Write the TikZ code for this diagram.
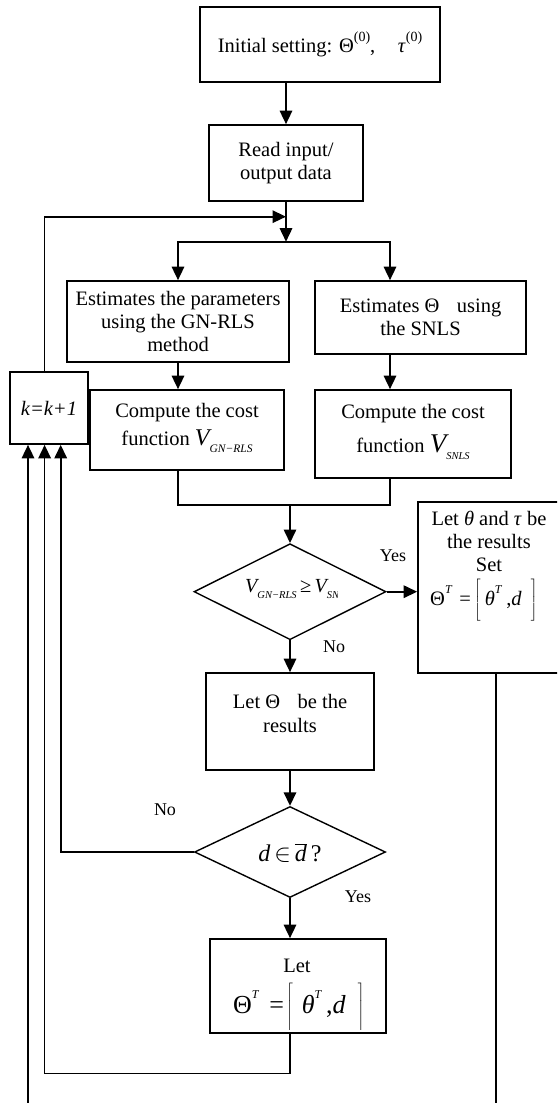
\documentclass[tikz,border=0pt]{standalone}
\usepackage{fontspec}
\setmainfont{Liberation Serif}
\usetikzlibrary{arrows.meta,shapes.geometric}

\newcommand{\boxfont}{\fontsize{20.5}{23.3}\selectfont}
\newcommand{\lblfont}{\fontsize{18}{20}\selectfont}
\newcommand{\supx}[2][12]{\raisebox{0.55em}{\fontsize{#1}{#1}\selectfont #2}}
\newcommand{\subx}[2][11.5]{\raisebox{-0.32em}{\fontsize{#1}{#1}\selectfont\itshape #2}}
\newcommand{\bigV}[1]{{\fontsize{#1}{#1}\selectfont\itshape V}}
\newcommand{\tallbr}[2]{\vrule height #1 depth #2 width 0pt}
% tall delimiters that do not widen the line box
\newcommand{\lbr}[3]{\smash{$\left#1\tallbr{#2}{#3}\right.$}}
\newcommand{\rbr}[3]{\smash{$\left.\tallbr{#2}{#3}\right#1$}}

\tikzset{
  x=1pt, y=-1pt,
  boxshape/.style={draw, line width=1.7pt, inner sep=0pt, align=center, font=\boxfont},
  decision/.style={draw, diamond, line width=1.4pt, inner sep=0pt},
  txt/.style={inner sep=0pt, align=center, font=\boxfont},
  lbl/.style={inner sep=0pt, font=\lblfont},
  flow/.style={line width=1.6pt, -{Triangle[width=12.5pt,length=13.5pt]}},
  wire/.style={line width=1.6pt},
}

\begin{document}
\begin{tikzpicture}
\useasboundingbox (0,0) rectangle (557,1103);
\clip (0,0) rectangle (557,1103);

% ---- boxes ----
\node[boxshape, minimum width=240pt, minimum height=75pt] (init) at (320,44.5)
  {Initial setting: Θ\supx[14]{(0)},\hspace{1.1em}\textit{τ}\supx[14]{(0)}};
\node[boxshape, minimum width=154pt, minimum height=76pt] (read) at (286,163)
  {Read input/\\output data};
\node[boxshape, minimum width=222pt, minimum height=81pt] (estL) at (178,321.5)
  {Estimates the parameters\\using the GN-RLS\\method};
\node[boxshape, minimum width=211pt, minimum height=73pt] (estR) at (420.5,317.5)
  {Estimates Θ\hspace{0.6em} using\\the SNLS};
\node[boxshape, minimum width=78pt, minimum height=72pt] (kbox) at (49,408)
  {\textit{k=k+1}};

\node[boxshape, minimum width=194pt, minimum height=80pt] (compL) at (187,430) {};
\node[txt] (compLt) at (187,428)
  {Compute the cost\\[5pt]function \bigV{24}\subx{GN−RLS}};
\node[boxshape, minimum width=196pt, minimum height=88pt] (compR) at (413,434) {};
\node[txt] (compRt) at (413,432)
  {Compute the cost\\[11pt]function \bigV{27}\subx[10.5]{SNLS}};

\node[decision, minimum width=192pt, minimum height=96pt] (dia1) at (290,591.7) {};
\begin{scope}
  \clip (200,560) rectangle (337,620);
  \node[txt, anchor=west] (dia1t) at (245,589)
    {\bigV{20}\subx[10.5]{GN−RLS}\,≥\,\bigV{20}\subx[10.5]{SNLS}};
\end{scope}

\node[boxshape, minimum width=143pt, minimum height=171pt] (resR) at (489.5,587.5) {};
\node[txt] (resRt) at (489,541.5) {Let \textit{θ} and \textit{τ} be\\the results\\Set};
\node[txt, anchor=base west] (resRf) at (430,605)
  {Θ\supx{\textit{T}}\hspace{7pt}=\hspace{3pt}\lbr{[}{26pt}{12pt}\hspace{3pt}\textit{θ}\supx{\textit{T}}\hspace{4pt},\textit{d}\hspace{8pt}\rbr{]}{26pt}{12pt}};

\node[boxshape, minimum width=168pt, minimum height=97pt] (letTh) at (290,721.5) {};
\node[txt] (letTht) at (290,713.5) {Let Θ\hspace{0.6em} be the\\results};

\node[decision, minimum width=191pt, minimum height=91pt] (dia2) at (290,852) {};
\node[txt, font=\fontsize{24}{24}\selectfont] (dia2t) at (290,853)
  {\textit{d}\,$\in$\,$\overline{\mbox{\itshape d}}$\,?};

\node[boxshape, minimum width=176pt, minimum height=94pt] (letB) at (298,986) {};
\node[txt] (letBt) at (297,966) {Let};
\node[txt, anchor=base west, font=\fontsize{26}{26}\selectfont] (letBf) at (233,1013)
  {Θ\supx{\textit{T}}\hspace{10pt}=\hspace{2pt}\lbr{\lceil}{30pt}{13pt}\hspace{8pt}\textit{θ}\supx{\textit{T}}\hspace{4pt},\textit{d}\hspace{11pt}\rbr{\rceil}{30pt}{13pt}};

% ---- labels ----
\node[lbl] (yes1) at (393,556) {Yes};
\node[lbl] (no1) at (334,647) {No};
\node[lbl] (no2) at (165,810) {No};
\node[lbl] (yes2) at (358,897) {Yes};

% ---- junction points ----
\coordinate (split) at (286,241.7);
\coordinate (rcol) at (390,241.7);
\coordinate (fb) at (286,216.7);
\coordinate (merge) at (290,505);
\coordinate (loopL) at (290,1073.3);
\coordinate (offR) at (495.7,1125);

% ---- connectors ----
\draw[flow] (read.north |- init.south) -- (read.north);
\draw[flow] (read.south) -- (split);
\draw[flow] ([xshift=-4.4pt]kbox.north) |- (fb);
\draw[flow] (split) -| (estL.north);
\draw[flow] (split) -| (rcol |- estR.north);
\draw[flow] (estL.south) -- (estL.south |- compL.north);
\draw[flow] (rcol |- estR.south) -- (rcol |- compR.north);
\draw[wire] (estL.south |- compL.south) |- (merge) -| (rcol |- compR.south);
\draw[flow] (merge) -- (dia1.north);
\draw[flow] (dia1.east) -- (dia1.east -| resR.west);
\draw[flow] (dia1.south) -- (letTh.north);
\draw[flow] (letTh.south) -- (dia2.north);
\draw[flow] (dia2.west) -| ([xshift=11.7pt]kbox.south);
\draw[flow] (dia2.south) -- (dia2.south |- letB.north);
\draw[flow] (dia2.south |- letB.south) -- (loopL) -| ([xshift=-4.4pt]kbox.south);
\draw[flow] (resR.south -| offR) -- (offR) -| ([xshift=-21pt]kbox.south);
\end{tikzpicture}
\end{document}
